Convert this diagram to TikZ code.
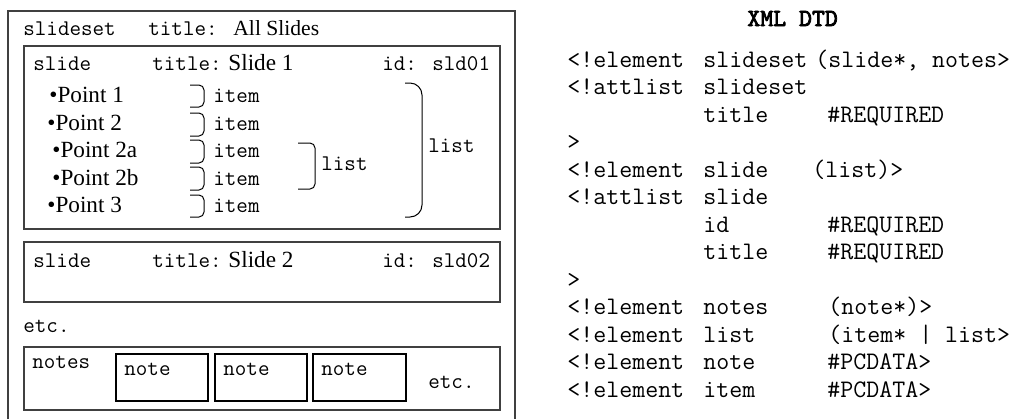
\documentclass[tikz,border=0pt]{standalone}
\usepackage{fontspec}
\setmainfont{Liberation Serif}
\newfontfamily\dtdheadfont{lmmono10-regular.otf}[FakeBold=3]
\usepackage{tikz}

\begin{document}
\begin{tikzpicture}[x=0.5pt, y=-0.5pt, style={
  txt/.style={
    inner sep=0pt,
    anchor=base west,
  },
  tag/.style={
    txt,
    font=\ttfamily\fontsize{11.2}{13}\selectfont,
  },
  val/.style={
    txt,
    font=\fontsize{11.6}{14}\selectfont,
  },
  dtd/.style={
    txt,
    font=\ttfamily\fontsize{12.6}{14}\selectfont,
  },
  framebox/.style={
    draw=black!75,
    line width=0.6pt,
  },
  notebox/.style={
    draw=black,
    line width=1pt,
  },
  curly/.style={
    draw=black,
    line width=0.5pt,
    rounded corners=2.5pt,
  },
  bigcurly/.style={
    curly,
    rounded corners=6pt,
  }
}]
\useasboundingbox (0,0) rectangle (1034,419);

% the slideset box, open at the bottom
\draw[framebox] (8,419) -- (8,11) -- (515,11) -- (515,419);
\node[tag] (slideset) at (23,35) {slideset};
\node[tag] (settitle) at (148,35) {title:};
\node[val, font=\fontsize{10.8}{12}\selectfont] (settitleval) at (233,35) {All Slides};

% slide 1
\draw[framebox] (24,46) rectangle (500,229);
\node[tag] (slide1) at (33,70) {slide};
\node[tag] (slide1title) at (152,70) {title:};
\node[val] (slide1titleval) at (228,70) {Slide 1};
\node[tag] (slide1id) at (382,70) {id: sld01};

\foreach \n/\px/\y/\t/\b/\lbl in {
  1/49/102/85/107/{Point 1},
  2/47/130/113/136/{Point 2},
  3/52/157/140/163/{Point 2a},
  4/52/185/167/190/{Point 2b},
  5/47/212/195/217/{Point 3}}
{
  \node[val] (point\n) at (\px,\y) {\textbullet\lbl};
  \draw[curly] (190,\t) -- (204,\t) -- (204,\b) -- (190,\b);
  \node[tag] (item\n) at (213,\y) {item};
}

\draw[curly] (298,143) -- (315,143) -- (315,189) -- (298,189);
\node[tag] (innerlist) at (321,170) {list};
\draw[bigcurly] (405,83) -- (422,83) -- (422,217) -- (405,217);
\node[tag] (outerlist) at (428,152) {list};

% slide 2
\draw[framebox] (24,242) rectangle (500,302);
\node[tag] (slide2) at (33,267) {slide};
\node[tag] (slide2title) at (152,267) {title:};
\node[val] (slide2titleval) at (228,267) {Slide 2};
\node[tag] (slide2id) at (382,267) {id: sld02};

\node[tag] (slidesetc) at (23,332) {etc.};

% notes
\draw[framebox] (24,347) rectangle (500,410);
\node[tag] (notes) at (32,368) {notes};
\foreach \n/\l/\r in {1/116/208, 2/215/307, 3/313/406}
{
  \draw[notebox] (\l,354) rectangle (\r,401);
  \node[tag] (note\n) at (\l+8,375) {note};
}
\node[tag] (notesetc) at (428,388) {etc.};

% the DTD
\node[dtd, font=\dtdheadfont\fontsize{12.3}{14}\selectfont] (dtdhead) at (747,26) {XML DTD};
\foreach \n/\a/\b/\c/\cx in {
  0/{<!element}/slideset/{(slide*, notes>}/815,
  1/{<!attlist}/slideset/{}/815,
  2/{}/title/{\#REQUIRED}/827,
  3/{>}/{}/{}/827,
  4/{<!element}/slide/{(list)>}/812,
  5/{<!attlist}/slide/{}/812,
  6/{}/id/{\#REQUIRED}/827,
  7/{}/title/{\#REQUIRED}/827,
  8/{>}/{}/{}/827,
  9/{<!element}/notes/{(note*)>}/828,
  10/{<!element}/list/{(item* | list>}/828,
  11/{<!element}/note/{\#PCDATA>}/827,
  12/{<!element}/item/{\#PCDATA>}/827}
{
  \node[dtd] (decl\n) at (567,67+27.5*\n) {\a};
  \node[dtd] (name\n) at (703,67+27.5*\n) {\b};
  \node[dtd] (spec\n) at (\cx,67+27.5*\n) {\c};
}
\end{tikzpicture}
\end{document}
